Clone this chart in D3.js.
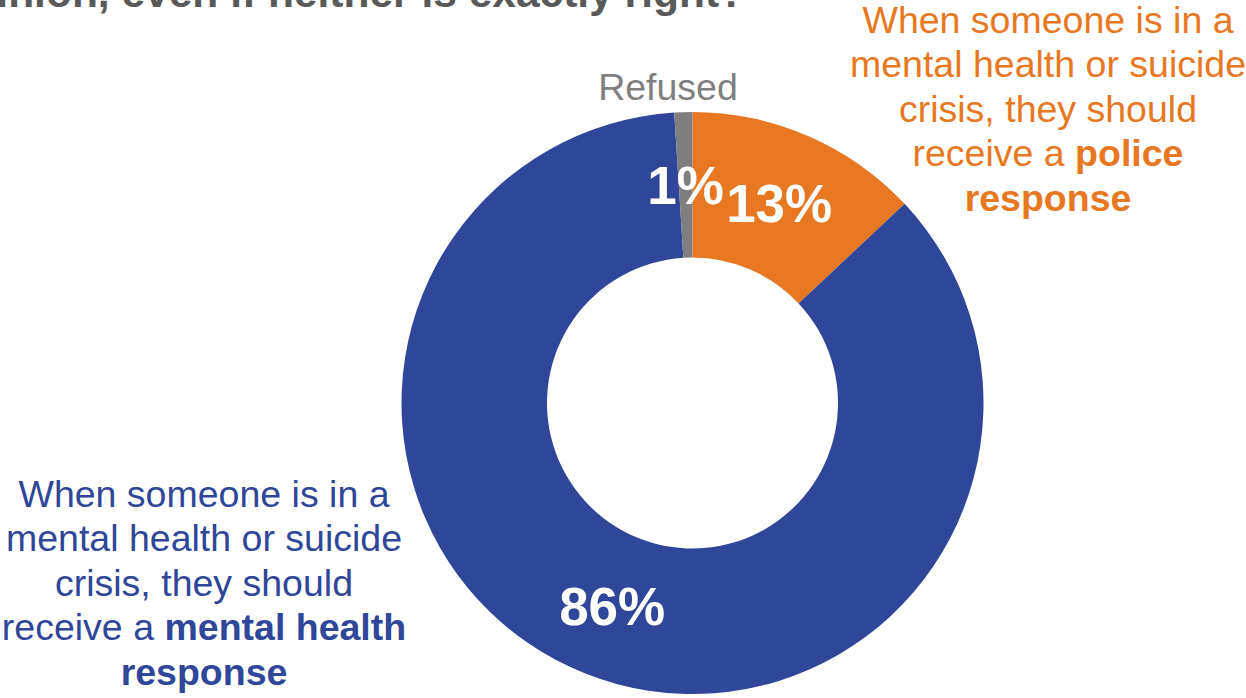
<!DOCTYPE html>
<html>
<head>
<meta charset="utf-8">
<script src="https://cdn.jsdelivr.net/npm/d3@7"></script>
<style>
  html, body { margin: 0; padding: 0; background: #ffffff; overflow: hidden; }
  svg { display: block; font-family: "Liberation Sans", Arial, sans-serif; }
</style>
</head>
<body>
<svg id="chart" width="1246" height="698"></svg>
<script>
// ---- data ----
const categories = ["Police response", "Mental health response", "Refused"];
const values = [13, 86, 1];
const valueLabels = ["13%", "86%", "1%"];
const colors = ["#E87722", "#2F4699", "#7F7F7F"];
const titleText = "opinion, even if neither is exactly right?";

const svg = d3.select("#chart");
const cx = 692.5, cy = 403, outerR = 291, innerR = 145.5;

// title (clipped at top as in the reference)
svg.append("text")
  .attr("x", 745).attr("y", 7)
  .attr("text-anchor", "end")
  .attr("font-size", 42.5).attr("font-weight", "bold")
  .attr("fill", "#595959")
  .text(titleText);

const pie = d3.pie().sort(null).value(d => d);
const arcs = pie(values);
const arc = d3.arc().innerRadius(innerR).outerRadius(outerR);

const g = svg.append("g").attr("transform", `translate(${cx},${cy})`);
g.selectAll("path.slice").data(arcs).enter().append("path")
  .attr("class", "slice")
  .attr("d", arc)
  .attr("fill", (d, i) => colors[i]);

g.selectAll("text.val").data(arcs).enter().append("text")
  .attr("class", "val")
  .attr("transform", d => `translate(${arc.centroid(d)})`)
  .attr("text-anchor", "middle")
  .attr("dy", "0.36em")
  .attr("font-size", 53).attr("font-weight", "bold")
  .attr("fill", "#ffffff")
  .text((d, i) => valueLabels[i]);

// category labels
function multiLabel(x, y, lines, color) {
  const t = svg.append("text")
    .attr("x", x).attr("y", y)
    .attr("text-anchor", "middle")
    .attr("font-size", 37.5)
    .attr("fill", color);
  lines.forEach((ln, i) => {
    const ts = t.append("tspan").attr("x", x).attr("dy", i === 0 ? 0 : 44.4);
    ln.forEach(part => {
      ts.append("tspan").attr("font-weight", part[1] ? "bold" : "normal").text(part[0]);
    });
  });
}

multiLabel(1048, 33, [
  [["When someone is in a", false]],
  [["mental health or suicide", false]],
  [["crisis, they should", false]],
  [["receive a ", false], ["police", true]],
  [["response", true]]
], colors[0]);

multiLabel(204, 507, [
  [["When someone is in a", false]],
  [["mental health or suicide", false]],
  [["crisis, they should", false]],
  [["receive a ", false], ["mental health", true]],
  [["response", true]]
], colors[1]);

svg.append("text")
  .attr("x", 668).attr("y", 100)
  .attr("text-anchor", "middle")
  .attr("font-size", 37.5)
  .attr("fill", colors[2])
  .text(categories[2]);
</script>
</body>
</html>
